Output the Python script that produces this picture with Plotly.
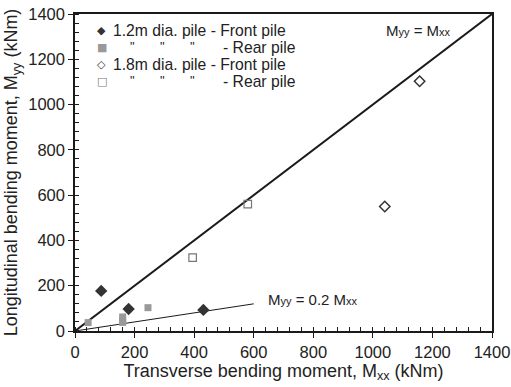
import plotly.graph_objects as go

# Data
front12_x = [88, 180, 431]
front12_y = [177, 97, 93]
rear12_x = [44, 160, 160, 160, 245]
rear12_y = [37, 62, 50, 38, 103]
front18_x = [1040, 1157]
front18_y = [550, 1103]
rear18_x = [395, 580]
rear18_y = [324, 560]
eq_line_x = [0, 1400]
eq_line_y = [0, 1400]
low_line_x = [0, 600]
low_line_y = [0, 120]
x_ticks = [0, 200, 400, 600, 800, 1000, 1200, 1400]
y_ticks = [0, 200, 400, 600, 800, 1000, 1200, 1400]

font = "Liberation Sans, Arial, sans-serif"
W, H = 511, 387
L, R, T, B = 75, 19, 14, 56
PW, PH = W - L - R, H - T - B


def px(xp):
    return (xp - L) / PW


def py(yp):
    return (H - B - yp) / PH


fig = go.Figure()
fig.add_trace(go.Scatter(x=eq_line_x, y=eq_line_y, mode="lines",
                         line=dict(color="#1a1a1a", width=2), showlegend=False, hoverinfo="skip"))
fig.add_trace(go.Scatter(x=low_line_x, y=low_line_y, mode="lines",
                         line=dict(color="#1a1a1a", width=1), showlegend=False, hoverinfo="skip"))
fig.add_trace(go.Scatter(x=front12_x, y=front12_y, mode="markers", showlegend=False,
                         marker=dict(symbol="diamond", size=9.5, color="#333333")))
fig.add_trace(go.Scatter(x=rear12_x, y=rear12_y, mode="markers", showlegend=False,
                         marker=dict(symbol="square", size=7, color="#999999")))
fig.add_trace(go.Scatter(x=front18_x, y=front18_y, mode="markers", showlegend=False,
                         marker=dict(symbol="diamond-open", size=8, color="#333333", line=dict(width=1.5))))
fig.add_trace(go.Scatter(x=rear18_x, y=rear18_y, mode="markers", showlegend=False,
                         marker=dict(symbol="square-open", size=7.5, color="#777777", line=dict(width=1.2))))

axis_common = dict(
    range=[0, 1400], tickvals=x_ticks, showgrid=False, zeroline=False, automargin=False,
    showline=True, linecolor="#1a1a1a", linewidth=1.5, mirror=True,
    ticks="outside", ticklen=5, tickcolor="#1a1a1a", tickwidth=1,
    tickfont=dict(family=font, size=16.5, color="#222222"),
    minor=dict(dtick=40, ticks="inside", ticklen=4, tickcolor="#1a1a1a", tickwidth=1, showgrid=False),
)

tf = dict(family=font, size=15.7, color="#222222")
qf = dict(family=font, size=13, color="#222222")
ann = []
# manual legend
legend_rows = [
    (30, "\u25c6", "#333333", 11, [(112, "1.2m dia. pile - Front pile", tf)]),
    (47.3, "\u25a0", "#999999", 11, [(129, "\"", qf), (159, "\"", qf), (189, "\"", qf), (222, "- Rear pile", tf)]),
    (64.3, "\u25c7", "#333333", 11, [(112, "1.8m dia. pile - Front pile", tf)]),
    (81.5, "\u25a1", "#777777", 11, [(129, "\"", qf), (159, "\"", qf), (189, "\"", qf), (222, "- Rear pile", tf)]),
]
for yp, sym, col, sz, texts in legend_rows:
    ann.append(dict(x=px(101.5), y=py(yp), xref="paper", yref="paper", showarrow=False,
                    text=sym, font=dict(family="DejaVu Sans", size=sz, color=col),
                    xanchor="center", yanchor="middle", borderpad=0))
    for xp, t, f in texts:
        ann.append(dict(x=px(xp), y=py(yp) if f is tf else py(yp - 1), xref="paper", yref="paper",
                        showarrow=False, text=t, font=f, xanchor="left", yanchor="middle", borderpad=0))

ann += [
    dict(x=px(384), y=py(30), xref="paper", yref="paper", showarrow=False, xanchor="left", yanchor="middle",
         text="M<span style='font-size:11px'>yy</span> = M<span style='font-size:11px'>xx</span>",
         font=dict(family=font, size=15, color="#222222")),
    dict(x=px(266), y=py(299), xref="paper", yref="paper", showarrow=False, xanchor="left", yanchor="middle",
         text="M<span style='font-size:11px'>yy</span> = 0.2 M<span style='font-size:11px'>xx</span>",
         font=dict(family=font, size=15, color="#222222")),
]

fig.update_layout(
    width=W, height=H,
    margin=dict(l=L, r=R, t=T, b=B),
    paper_bgcolor="white", plot_bgcolor="white",
    font=dict(family=font, color="#222222"),
    xaxis=dict(**axis_common,
               title=dict(text="Transverse bending moment, M<sub>xx</sub> (kNm)",
                          font=dict(family=font, size=18, color="#222222"), standoff=3)),
    yaxis=dict(**{**axis_common, "tickvals": y_ticks},
               title=dict(text="Longitudinal bending moment, M<sub>yy</sub> (kNm)",
                          font=dict(family=font, size=18, color="#222222"), standoff=6)),
    showlegend=False,
    annotations=ann,
)

fig.write_html("out.html")
